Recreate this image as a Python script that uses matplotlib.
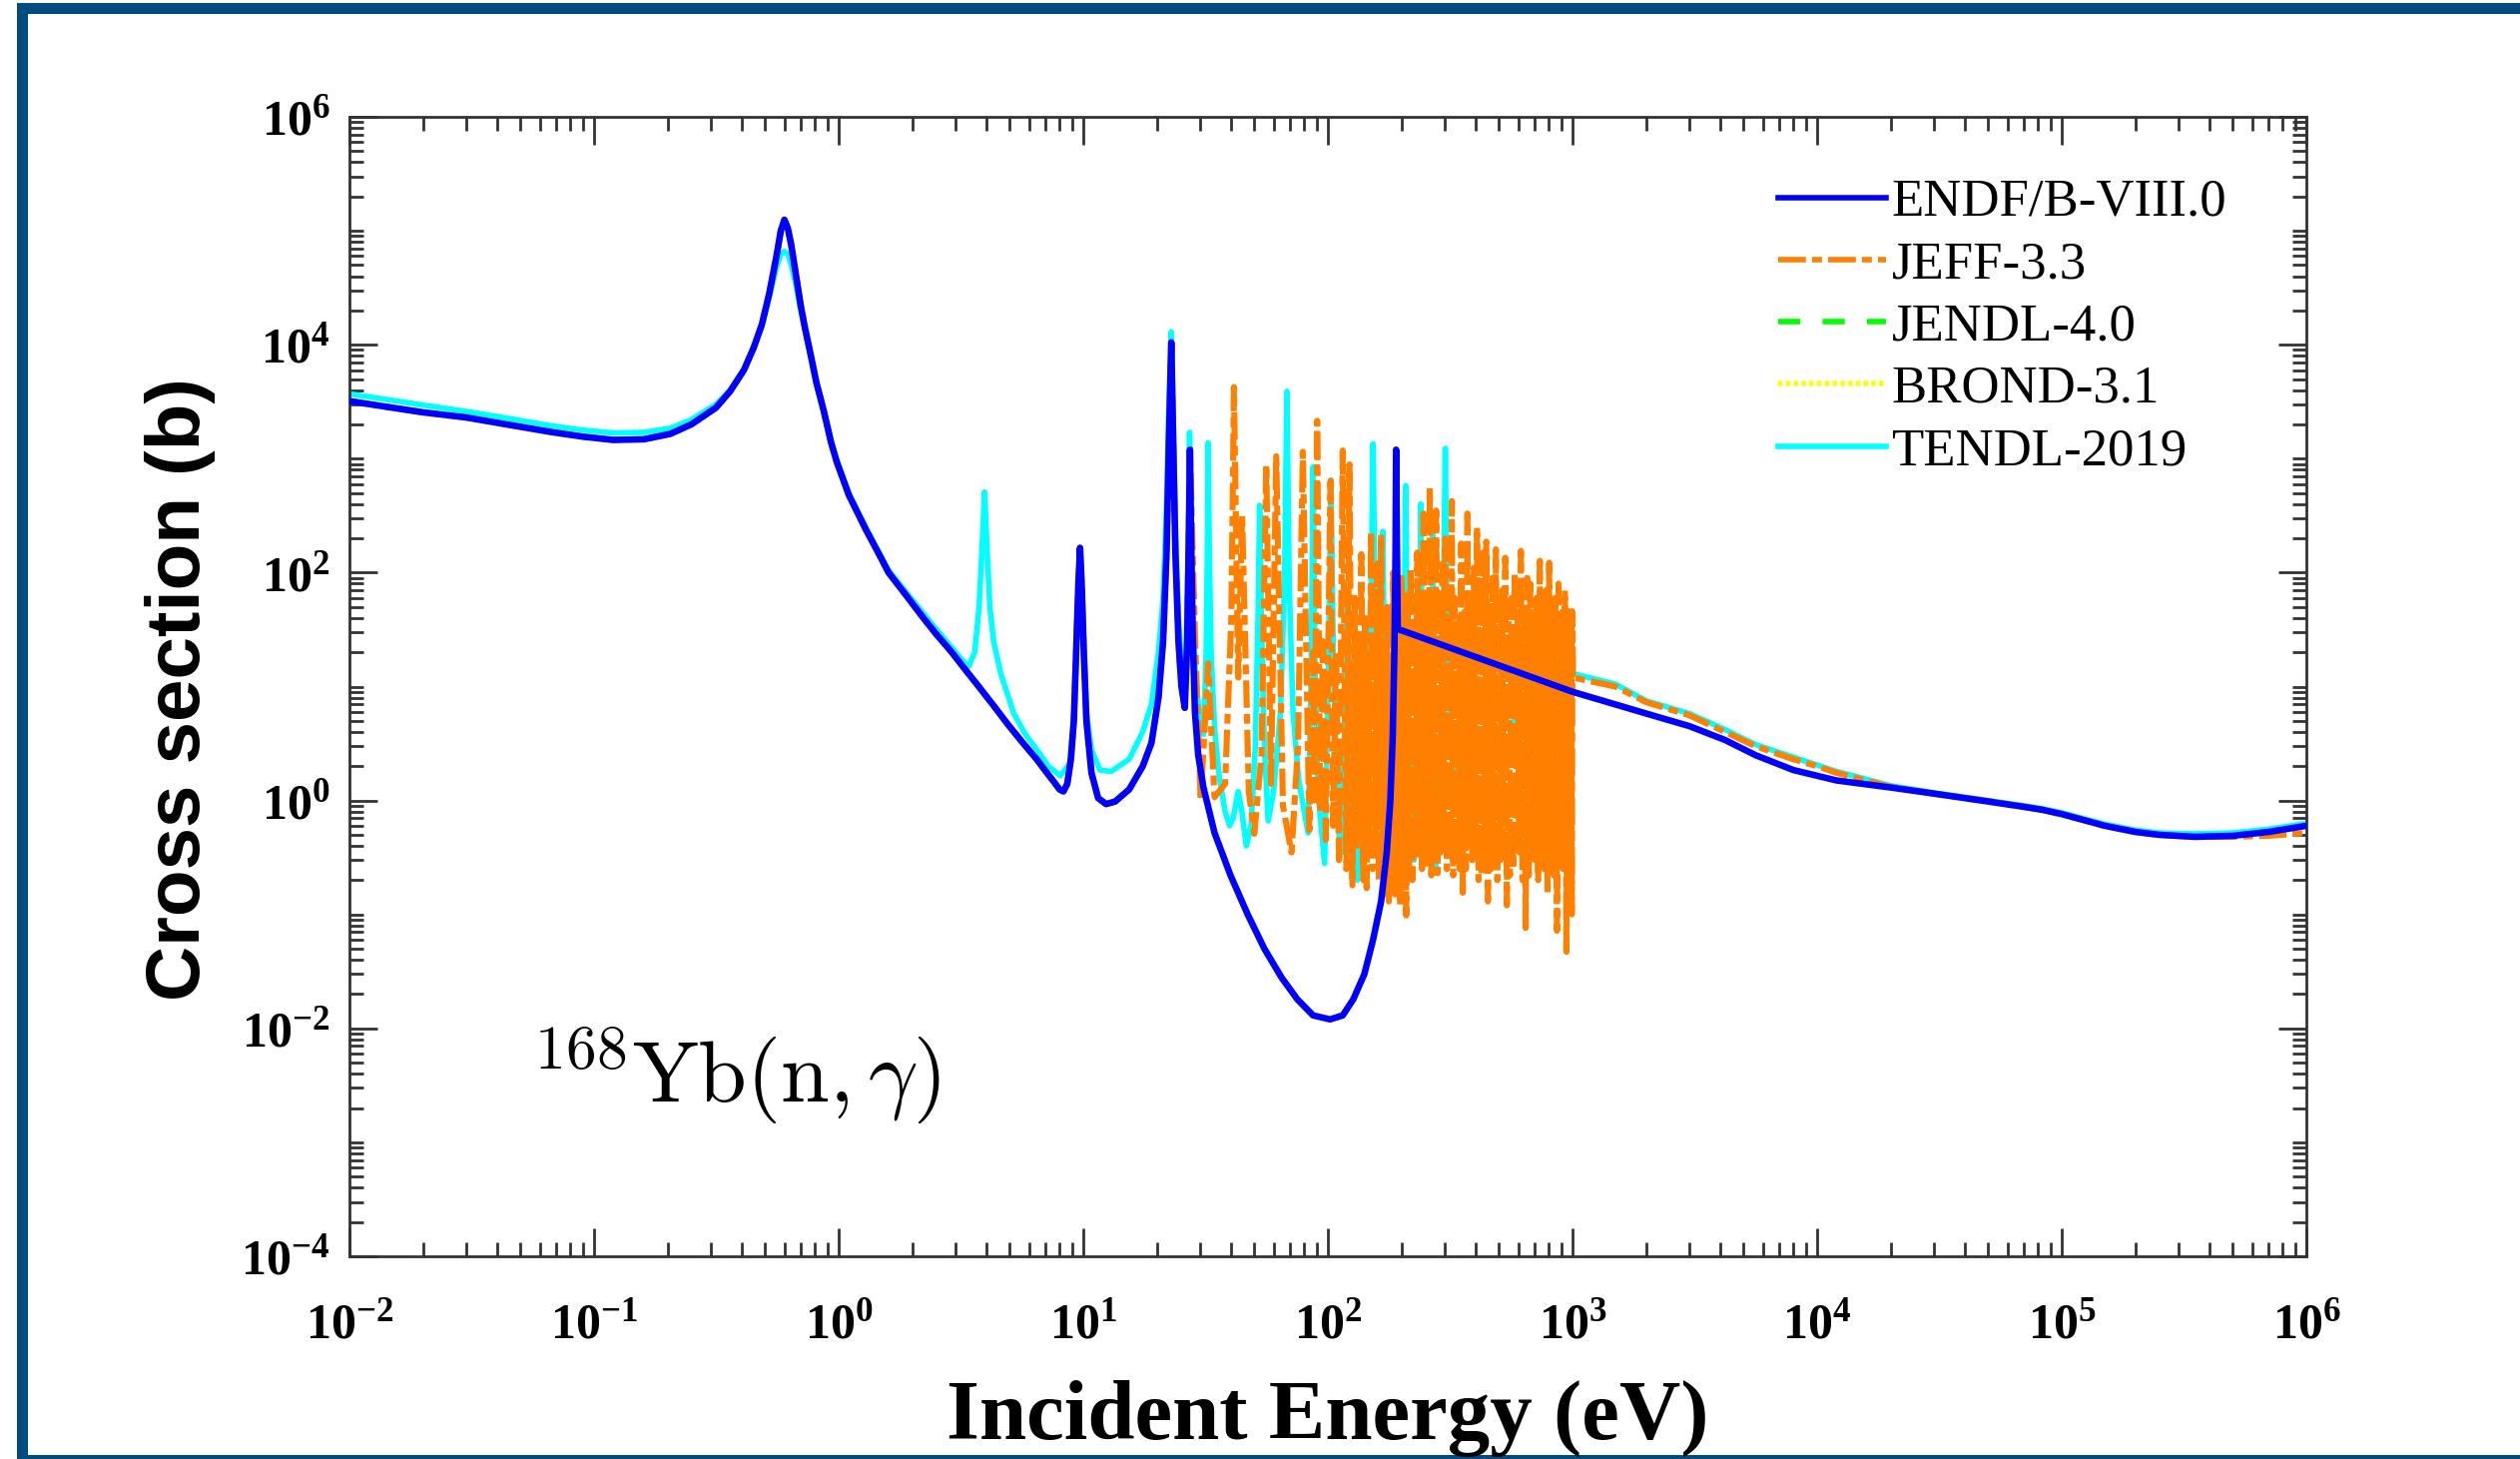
import matplotlib
matplotlib.use('Agg')
import matplotlib.pyplot as plt
from matplotlib.ticker import LogLocator, FixedLocator, FuncFormatter, NullFormatter
from matplotlib.patches import Rectangle
import numpy

# ENDF/B-VIII.0, (energy eV, cross section b)
endf_pts = [(0.01, 3200), (0.015, 2800), (0.02, 2550), (0.03, 2300), (0.045, 1980),
            (0.066, 1720), (0.09, 1560), (0.12, 1460), (0.16, 1480), (0.205, 1650),
            (0.25, 2000), (0.315, 2800), (0.36, 3900), (0.41, 6000), (0.45, 9500),
            (0.485, 1.5e4), (0.52, 2.8e4), (0.557, 6.0e4), (0.58, 1.0e5), (0.60, 1.25e5),
            (0.62, 1.05e5), (0.64, 7.5e4), (0.67, 4.0e4), (0.70, 2.2e4), (0.726, 1.45e4),
            (0.77, 8000), (0.81, 4700), (0.87, 2600), (0.93, 1400), (0.98, 950),
            (1.1, 480), (1.29, 240), (1.45, 150), (1.6, 100), (1.9, 62),
            (2.2, 41), (2.5, 29), (2.9, 20), (3.3, 14), (3.78, 9.7),
            (4.3, 6.8), (4.9, 4.7), (5.6, 3.3), (6.45, 2.3), (7.1, 1.75),
            (7.6, 1.45), (8.0, 1.25), (8.3, 1.2), (8.6, 1.4), (8.9, 2.3),
            (9.15, 5), (9.35, 20), (9.55, 80), (9.7, 165), (9.85, 80),
            (10.05, 20), (10.3, 5), (10.8, 1.75), (11.5, 1.05), (12.4, 0.93),
            (13.5, 0.98), (15.4, 1.25), (17.5, 2.0), (19.0, 3.2), (20.3, 8),
            (21.2, 25), (21.9, 150), (22.4, 1500), (22.9, 1.05e4), (23.3, 1500),
            (23.8, 150), (24.5, 25), (25.2, 10), (26.0, 6.5), (26.6, 25),
            (27.0, 200), (27.3, 1200), (27.6, 200), (28.0, 30), (28.6, 6),
            (29.5, 2.5), (31.0, 1.3), (34.4, 0.52), (40.0, 0.22), (47.0, 0.1),
            (55.0, 0.05), (64.6, 0.028), (75.0, 0.018), (87.0, 0.013), (102.0, 0.012),
            (115.0, 0.013), (127.0, 0.018), (141.0, 0.03), (153.0, 0.06), (165.0, 0.13),
            (174.0, 0.35), (180.0, 1.0), (184.0, 3.5), (187.0, 20), (189.0, 150),
            (190.0, 1200), (193.0, 32), (1000.0, 9.0), (2000.0, 5.8), (3000.0, 4.5),
            (4200.0, 3.4), (5600.0, 2.5), (8000.0, 1.85), (1.2e4, 1.5), (2.0e4, 1.3),
            (3.0e4, 1.15), (5.0e4, 0.98), (7.0e4, 0.88), (8.3e4, 0.83), (1.0e5, 0.76),
            (1.5e5, 0.60), (2.0e5, 0.53), (2.5e5, 0.50), (3.5e5, 0.48), (5.0e5, 0.49),
            (7.0e5, 0.53), (1.0e6, 0.60)]

# JEFF-3.3: same as ENDF up to the 27 eV resonance, then its own resonances
jeff_res = [(28.6, 30), (30.2, 1.0), (32.4, 16), (34.4, 1.07), (38.0, 1.4),
            (40.3, 40), (41.3, 4250), (43.0, 12), (44.6, 320), (47.5, 1.2),
            (50.0, 0.51), (53.5, 2.5), (56.0, 890), (58.5, 1.4), (61.5, 1050),
            (65.5, 0.9), (71.0, 0.35), (75.5, 3.0), (79.0, 1150), (84.0, 0.55),
            (87.0, 20), (88.5, 1.0), (90.4, 2150), (93.0, 0.8), (95.5, 25),
            (98.0, 0.45), (102.5, 640), (105.0, 0.6), (108.0, 20), (111.0, 0.3),
            (115.0, 1180), (119.0, 0.25), (122.5, 890), (126.0, 0.18), (129.0, 60),
            (131.5, 0.4), (134.0, 25), (135.5, 0.5), (137.0, 145), (139.5, 0.2),
            (142.0, 40), (144.0, 0.17), (146.5, 15), (148.0, 0.4), (150.0, 230),
            (152.5, 0.25), (155.0, 30), (157.0, 0.5), (159.0, 120), (161.5, 0.2),
            (165.0, 215), (167.5, 0.3), (170.0, 20), (172.0, 0.15), (175.0, 50),
            (177.5, 0.13), (180.5, 15), (182.5, 0.3), (185.0, 100), (188.0, 0.15),
            (190.5, 25), (192.5, 0.2), (195.0, 60), (197.5, 0.12), (200.0, 90),
            (203.0, 0.3), (206.0, 45), (209.0, 0.098), (212.0, 70), (215.0, 0.22),
            (218.0, 110), (221.5, 0.2), (225.0, 40), (228.5, 0.35), (232.0, 150),
            (235.5, 0.3), (239.0, 55), (242.5, 0.25), (246.0, 330), (249.5, 0.25),
            (253.0, 50), (257.0, 0.3), (261.0, 560), (265.0, 0.22), (269.0, 60),
            (273.0, 0.3), (277.0, 350), (281.0, 0.23), (285.0, 55), (289.5, 0.35),
            (294.0, 120), (298.0, 0.4), (302.0, 200), (306.5, 0.25), (311.0, 45),
            (316.0, 0.3), (321.0, 425), (325.5, 0.22), (330.0, 60), (335.0, 0.3),
            (340.0, 40), (345.5, 0.25), (351.0, 180), (356.0, 0.155), (361.0, 45),
            (366.5, 0.25), (372.0, 330), (377.5, 0.4), (383.0, 50), (389.0, 0.3),
            (395.0, 110), (401.0, 0.3), (407.0, 250), (413.0, 0.2), (419.0, 55),
            (425.0, 0.22), (431.0, 150), (437.5, 0.35), (444.0, 187), (451.0, 0.13),
            (458.0, 45), (464.5, 0.25), (471.0, 90), (478.5, 0.3), (486.0, 160),
            (493.0, 0.2), (500.0, 50), (507.5, 0.3), (515.0, 70), (523.0, 0.35),
            (531.0, 135), (539.0, 0.12), (547.0, 55), (555.0, 0.22), (563.0, 60),
            (571.5, 0.25), (580.0, 100), (588.5, 0.4), (597.0, 45), (606.0, 0.35),
            (615.0, 155), (624.5, 0.2), (634.0, 40), (643.5, 0.076), (653.0, 90),
            (662.5, 0.22), (672.0, 80), (682.5, 0.3), (693.0, 45), (703.0, 0.3),
            (713.0, 60), (724.0, 0.2), (735.0, 127), (746.0, 0.35), (757.0, 55),
            (768.0, 0.25), (779.0, 70), (791.0, 0.15), (803.0, 122), (815.0, 0.25),
            (827.0, 45), (839.0, 0.22), (851.0, 60), (864.0, 0.072), (877.0, 80),
            (890.0, 0.3), (903.0, 45), (917.0, 0.25), (931.0, 70), (944.5, 0.047),
            (958.0, 40), (972.5, 0.3), (987.0, 50), (993.0, 0.1), (1000.0, 45)]
jeff_tail = [(1005.0, 12), (1500.0, 10), (2000.0, 7.3), (3000.0, 5.6), (4200.0, 4.0),
             (5600.0, 3.0), (8000.0, 2.3), (1.0e4, 2.0), (1.2e4, 1.75), (2.0e4, 1.32),
             (3.0e4, 1.15), (5.0e4, 0.99), (7.0e4, 0.88), (8.3e4, 0.83), (1.0e5, 0.76),
             (1.5e5, 0.60), (2.0e5, 0.53), (2.5e5, 0.50), (3.5e5, 0.48), (5.0e5, 0.48),
             (7.0e5, 0.49), (1.0e6, 0.52)]

# TENDL-2019
tendl_pts = [(0.01, 3700), (0.015, 3250), (0.02, 2950), (0.03, 2600), (0.045, 2250),
             (0.066, 1950), (0.09, 1780), (0.12, 1680), (0.16, 1700), (0.205, 1850),
             (0.25, 2200), (0.315, 3000), (0.36, 4000), (0.41, 6000), (0.45, 9500),
             (0.485, 1.45e4), (0.52, 2.6e4), (0.557, 4.8e4), (0.58, 6.2e4), (0.60, 6.6e4),
             (0.62, 6.2e4), (0.64, 5.0e4), (0.67, 3.3e4), (0.70, 2.0e4), (0.726, 1.4e4),
             (0.77, 8000), (0.81, 4700), (0.87, 2600), (0.93, 1450), (0.98, 980),
             (1.1, 500), (1.29, 250), (1.45, 155), (1.6, 105), (1.9, 66),
             (2.2, 45), (2.5, 32), (2.9, 22), (3.2, 17), (3.4, 15),
             (3.6, 20), (3.75, 50), (3.85, 150), (3.95, 510), (4.05, 150),
             (4.15, 50), (4.3, 25), (4.6, 13), (5.2, 5.8), (5.8, 3.8),
             (6.45, 2.8), (7.2, 2.0), (8.05, 1.65), (8.8, 2.1), (9.2, 6),
             (9.45, 40), (9.7, 160), (9.95, 40), (10.3, 6), (10.8, 2.8),
             (11.7, 1.85), (13.0, 1.8), (15.4, 2.3), (17.5, 4), (19.0, 7),
             (20.3, 20), (21.2, 60), (21.9, 400), (22.4, 3000), (22.9, 1.3e4),
             (23.3, 2500), (23.8, 250), (24.5, 40), (25.2, 15), (26.0, 10),
             (26.6, 50), (27.0, 300), (27.2, 1700), (27.5, 300), (28.0, 50),
             (28.8, 12), (30.0, 5), (31.0, 3.8), (31.8, 20), (32.2, 200),
             (32.4, 1380), (32.7, 200), (33.3, 20), (34.5, 4), (36.0, 1.6),
             (38.0, 0.8), (39.7, 0.6), (41.0, 0.7), (43.0, 1.2), (44.5, 0.8),
             (46.4, 0.4), (48.5, 0.6), (50.5, 3), (51.8, 40), (52.6, 390),
             (53.5, 40), (55.0, 3), (57.0, 0.66), (60.0, 1.2), (64.0, 6),
             (66.5, 80), (68.0, 3900), (69.5, 80), (72.0, 6), (76.0, 1.5),
             (83.0, 0.52), (85.5, 15), (87.0, 850), (88.5, 15), (91.0, 1.2),
             (97.0, 0.28), (100.5, 15), (103.0, 650), (105.5, 12), (112.0, 0.31),
             (117.0, 4), (120.0, 65), (123.0, 3), (132.0, 0.2), (145.0, 2),
             (150.0, 50), (153.0, 1350), (156.0, 50), (163.0, 0.6), (166.5, 20),
             (168.0, 230), (170.0, 10), (180.0, 0.3), (200.0, 1.0), (205.0, 20),
             (208.0, 580), (211.0, 15), (225.0, 0.3), (236.0, 10), (240.0, 400),
             (244.0, 8), (260.0, 0.4), (266.0, 20), (268.0, 330), (271.0, 10),
             (276.0, 0.23), (295.0, 20), (302.0, 1230), (309.0, 10), (330.0, 1.5),
             (500.0, 4), (1005.0, 13), (1500.0, 10.5), (2000.0, 7.5), (3000.0, 5.8),
             (4200.0, 4.2), (5600.0, 3.1), (8000.0, 2.4), (1.0e4, 2.05), (1.2e4, 1.8),
             (2.0e4, 1.35), (3.0e4, 1.17), (5.0e4, 1.0), (7.0e4, 0.9), (8.3e4, 0.85),
             (1.0e5, 0.78), (1.5e5, 0.62), (2.0e5, 0.55), (2.5e5, 0.52), (3.5e5, 0.51),
             (5.0e5, 0.52), (7.0e5, 0.56), (1.0e6, 0.63)]

labels = ['ENDF/B-VIII.0', 'JEFF-3.3', 'JENDL-4.0', 'BROND-3.1', 'TENDL-2019']

endf_e = [p[0] for p in endf_pts]
endf_sig = [p[1] for p in endf_pts]
n_low = endf_e.index(27.3) + 1
jeff_e = endf_e[:n_low] + [p[0] for p in jeff_res + jeff_tail]
jeff_sig = endf_sig[:n_low] + [p[1] for p in jeff_res + jeff_tail]
tendl_e = [p[0] for p in tendl_pts]
tendl_sig = [p[1] for p in tendl_pts]
# JENDL-4.0 and BROND-3.1 are hidden under the ENDF curve in the picture
jendl_e, jendl_sig = endf_e, endf_sig
brond_e, brond_sig = endf_e, endf_sig

W, H = 2524, 1461

plt.rcParams['font.family'] = 'Liberation Serif'
plt.rcParams['mathtext.fontset'] = 'custom'
plt.rcParams['mathtext.rm'] = 'Liberation Serif:bold'
plt.rcParams['mathtext.bf'] = 'Liberation Serif:bold'
plt.rcParams['mathtext.it'] = 'Liberation Serif:italic:bold'

fig = plt.figure(figsize=(W / 100, H / 100), dpi=100)
ax = fig.add_axes([350 / W, 1 - 1258 / H, 1960 / W, 1141 / H])

l_tendl, = ax.plot(tendl_e, tendl_sig, color='#00ffff', lw=4.0, zorder=2)
l_brond, = ax.plot(brond_e, brond_sig, color='#ffff00', lw=3.0, ls=(0, (0.8, 0.6)), zorder=2.2)
l_jendl, = ax.plot(jendl_e, jendl_sig, color='#00ff00', lw=3.0, ls=(0, (4, 4)), zorder=2.4)
l_jeff, = ax.plot(jeff_e, jeff_sig, color='#ff8000', lw=4.4, ls=(0, (4.5, 1.0, 1.6, 1.0)), zorder=2.6)
l_endf, = ax.plot(endf_e, endf_sig, color='#0000ff', lw=4.7, zorder=3)

ax.set_xscale('log')
ax.set_yscale('log')
ax.set_xlim(1e-2, 1e6)
ax.set_ylim(1e-4, 1e6)

ax.xaxis.set_major_locator(LogLocator(base=10, numticks=20))
ax.xaxis.set_minor_locator(LogLocator(base=10, subs=(2, 3, 4, 5, 6, 7, 8, 9), numticks=100))
ax.yaxis.set_major_locator(FixedLocator([1e-4, 1e-2, 1e0, 1e2, 1e4, 1e6]))
ax.yaxis.set_minor_locator(LogLocator(base=10, subs=(1, 2, 3, 4, 5, 6, 7, 8, 9), numticks=100))

fmt = FuncFormatter(lambda v, p: r'$\mathbf{10^{%d}}$' % int(round(numpy.log10(v))))
ax.xaxis.set_major_formatter(fmt)
ax.yaxis.set_major_formatter(fmt)
ax.xaxis.set_minor_formatter(NullFormatter())
ax.yaxis.set_minor_formatter(NullFormatter())

ax.tick_params(which='both', direction='in', top=True, right=True, color='#333333', width=2)
ax.tick_params(which='major', length=20)
ax.tick_params(which='minor', length=10)
ax.tick_params(axis='x', labelsize=36, pad=33, labelcolor='black')
ax.tick_params(axis='y', labelsize=36, pad=14, labelcolor='black')
for s in ax.spines.values():
    s.set_color('#333333')
    s.set_linewidth(2)

fig.text(181 / W, 1 - 690 / H, 'Cross section (b)', rotation=90, ha='center', va='center',
         fontsize=55, family='Liberation Sans', weight='bold')
fig.text(1330 / W, 1 - 1441 / H, 'Incident Energy (eV)', ha='center', va='baseline',
         fontsize=61, weight='bold')
fig.text(532 / W, 1 - 1103 / H, r'${}^{168}\mathrm{Yb}(\mathrm{n},\gamma)$', ha='left', va='baseline',
         fontsize=63, math_fontfamily='cm')

leg = ax.legend([l_endf, l_jeff, l_jendl, l_brond, l_tendl], labels,
                loc='upper left', bbox_to_anchor=(1781 / W, 1 - 179 / H), bbox_transform=fig.transFigure,
                frameon=False, fontsize=38, handlelength=2.05, handletextpad=0.1,
                labelspacing=0.27, borderpad=0, borderaxespad=0)
for ln in leg.get_lines():
    ln.set_linewidth(4.0)
leg.get_lines()[1].set_linestyle((0, (5.0, 1.1, 1.8, 1.1)))

# dark blue frame around the picture
frame = '#004c80'
fig.add_artist(Rectangle((17 / W, 1 - 14 / H), 1 - 17 / W, 11 / H, transform=fig.transFigure,
                         color=frame, lw=0))
fig.add_artist(Rectangle((17 / W, 0), 11 / W, 1 - 3 / H, transform=fig.transFigure,
                         color=frame, lw=0))
fig.add_artist(Rectangle((17 / W, 0), 1 - 17 / W, 4 / H, transform=fig.transFigure,
                         color=frame, lw=0))

fig.savefig('out.png', dpi=100)
